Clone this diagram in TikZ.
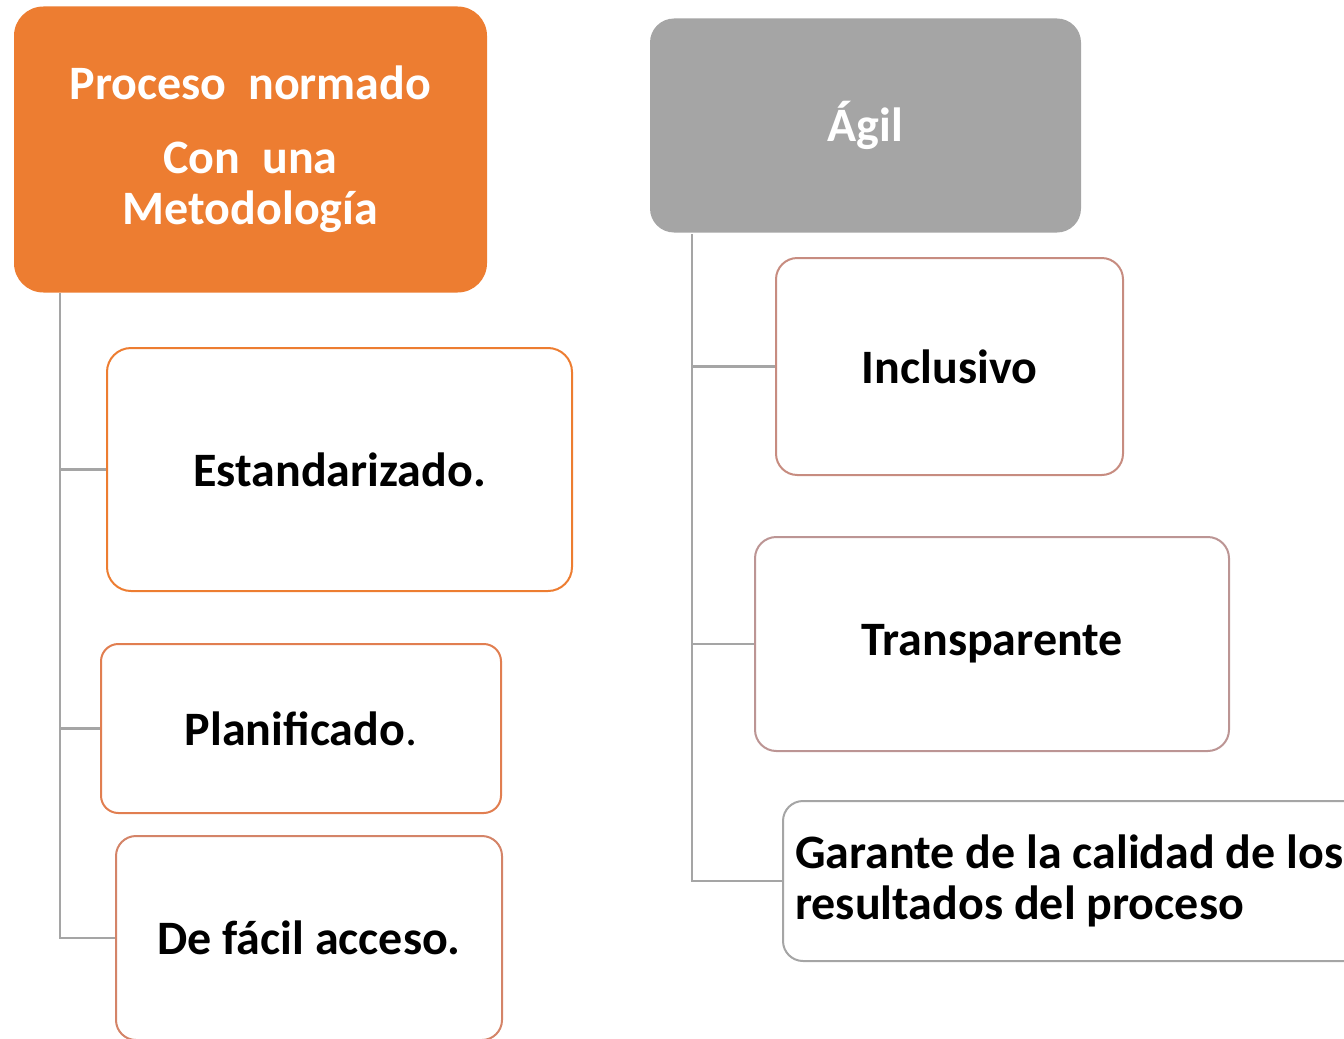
\documentclass[tikz,border=0pt]{standalone}
\usepackage{fontspec}
\setmainfont{Carlito}
\definecolor{orangeA}{HTML}{ED7D31}
\definecolor{grayA}{HTML}{A5A5A5}
\definecolor{b1}{HTML}{ED7D31}
\definecolor{b2}{HTML}{E17E50}
\definecolor{b3}{HTML}{D48468}
\definecolor{b4}{HTML}{C78C80}
\definecolor{b5}{HTML}{BC9594}
\definecolor{b6}{HTML}{A5A5A5}
\tikzset{
  boxtxt/.style={font=\fontsize{36}{38.5}\selectfont\bfseries},
  topbox/.style={rectangle, rounded corners=#1, inner sep=0pt, boxtxt, text=white, align=center},
  subbox/.style={rectangle, rounded corners=#1, inner sep=0pt, boxtxt, text=black, fill=white, line width=1.5pt, align=center},
  link/.style={draw=grayA, line width=2pt},
}
\begin{document}
\begin{tikzpicture}[x=0.75pt,y=-0.75pt]
\useasboundingbox (0,0) rectangle (1344,1038);
\clip (0,0) rectangle (1344,1038);
% top boxes
\node[topbox=22pt, fill=orangeA, minimum width=473*0.75pt, minimum height=286*0.75pt] (proc) at (250.5,149.5)
  {Proceso\ \ normado\\[17pt]Con\ \ una\\Metodología};
\node[topbox=18pt, fill=grayA, minimum width=431*0.75pt, minimum height=214*0.75pt] (agil) at (865.5,125.5) {Ágil};
% left children
\node[subbox=18pt, draw=b1, minimum width=465*0.75pt, minimum height=243*0.75pt] (est) at (339.5,469.5) {Estandarizado.};
\node[subbox=13pt, draw=b2, minimum width=400*0.75pt, minimum height=169*0.75pt] (plan) at (301,728.5) {Planificado\textmd{.}};
\node[subbox=15pt, draw=b3, minimum width=386*0.75pt, minimum height=204*0.75pt] (fac) at (309,938) {De fácil acceso.};
% right children
\node[subbox=16pt, draw=b4, minimum width=347*0.75pt, minimum height=217*0.75pt] (inc) at (949.5,366.5) {Inclusivo};
\node[subbox=16pt, draw=b5, minimum width=474*0.75pt, minimum height=214*0.75pt] (tra) at (992,644) {Transparente};
\node[subbox=15pt, draw=b6, anchor=west, minimum width=620*0.75pt, minimum height=160*0.75pt] (gar) at (782,881) {};
\node[boxtxt, anchor=west, inner sep=0pt, align=left] (gartxt) at (795,881)
  {Garante de la calidad de los\\resultados del proceso};
% connectors
\coordinate (lt) at (60,293);
\coordinate (rt) at (692,234);
\draw[link] (lt) |- (est.west);
\draw[link] (lt) |- (plan.west);
\draw[link] (lt) |- (fac.west);
\draw[link] (rt) |- (inc.west);
\draw[link] (rt) |- (tra.west);
\draw[link] (rt) |- (gar.west);
\end{tikzpicture}
\end{document}
